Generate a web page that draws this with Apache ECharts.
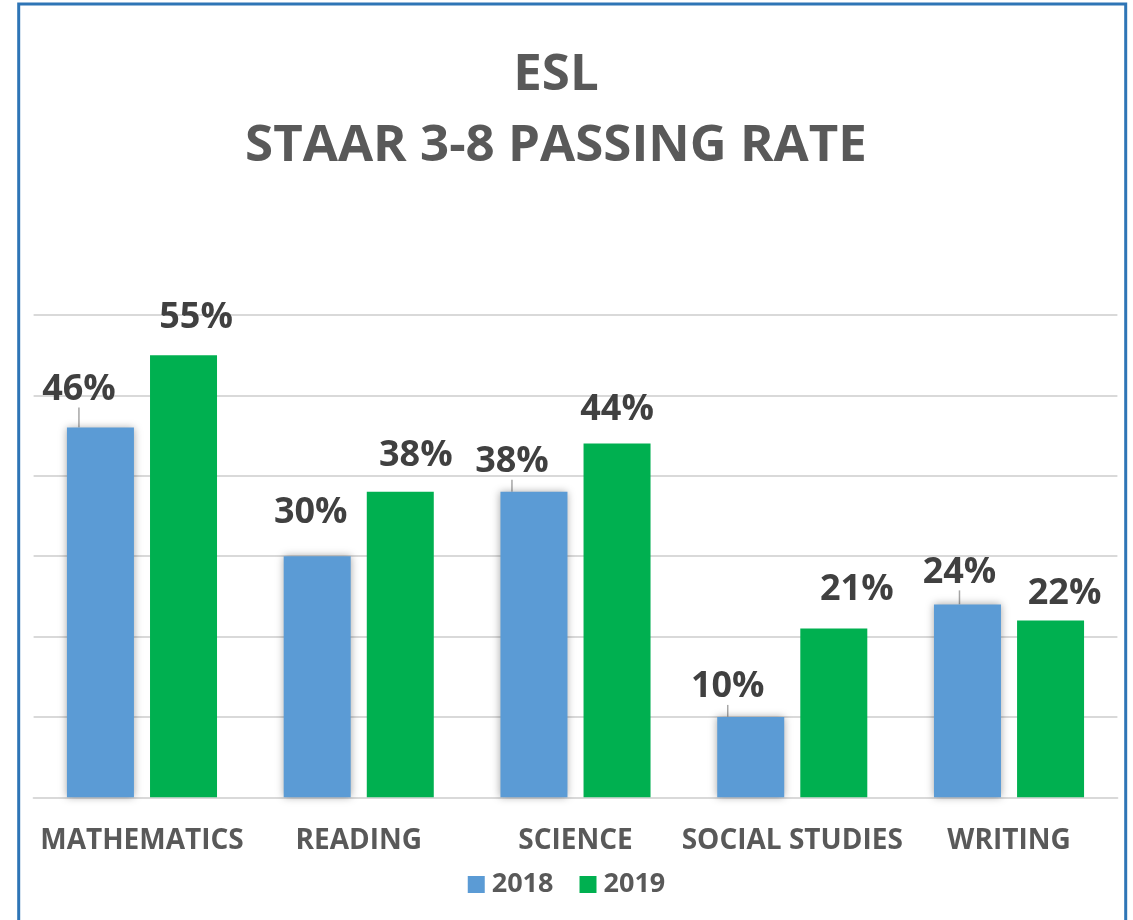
<!DOCTYPE html>
<html>
<head>
<meta charset="utf-8">
<script src="https://cdn.jsdelivr.net/npm/echarts@6/dist/echarts.min.js"></script>
<style>
html,body{margin:0;padding:0;background:#fff;overflow:hidden;}
#c{width:1133px;height:920px;}
</style>
</head>
<body>
<div id="c"></div>
<script>
const categories = ['MATHEMATICS', 'READING', 'SCIENCE', 'SOCIAL STUDIES', 'WRITING'];
const seriesNames = ['2018', '2019'];
const values2018 = [46, 30, 38, 10, 24];
const values2019 = [55, 38, 44, 21, 22];
const yTicks = [0, 10, 20, 30, 40, 50, 60];

// label placement (style only)
const labelDx2018 = [-21.5, -6.5, -22, -23, -8];
const labelGap2018 = [25, 30, 17, 17, 19];
const leader2018 = [true, false, true, true, true];
const labelDx2019 = [12.5, 15.5, 0, 23, 14];
const labelGap2019 = [24, 23, 21, 26, 14];

const FONT = 'Open Sans';
const chart = echarts.init(document.getElementById('c'), null, {renderer: 'canvas'});

function items(vals, leaders) {
  return vals.map((v, i) => ({
    value: v,
    labelLine: {show: leaders ? leaders[i] : false}
  }));
}

const labelCommon = {
  show: true,
  position: 'top',
  distance: 0,
  formatter: p => p.value + '%',
  fontFamily: FONT,
  fontWeight: 'bold',
  fontSize: 36,
  color: '#404040'
};

chart.setOption({
  animation: false,
  backgroundColor: '#ffffff',
  title: {
    text: 'ESL\nSTAAR 3-8 PASSING RATE',
    left: 551,
    textAlign: 'center',
    top: 35,
    textStyle: {
      fontFamily: FONT,
      fontWeight: 'bold',
      fontSize: 51,
      lineHeight: 71,
      color: '#595959'
    }
  },
  legend: {
    data: seriesNames,
    left: 'center',
    top: 866,
    icon: 'rect',
    itemWidth: 17,
    itemHeight: 17,
    itemGap: 26,
    textStyle: {
      fontFamily: FONT,
      fontWeight: 'bold',
      fontSize: 27,
      color: '#595959',
      padding: [0, 0, 0, 2]
    }
  },
  grid: {left: 33.6, right: 15.6, top: 315, bottom: 122.7, containLabel: false},
  xAxis: {
    type: 'category',
    data: categories,
    axisTick: {show: false},
    axisLine: {show: true, lineStyle: {color: '#d9d9d9', width: 2}},
    axisLabel: {
      margin: 30,
      interval: 0,
      fontFamily: FONT,
      fontWeight: 'bold',
      fontSize: 28,
      color: '#595959'
    }
  },
  yAxis: {
    type: 'value',
    min: yTicks[0],
    max: yTicks[yTicks.length - 1],
    interval: 10,
    axisLabel: {show: false},
    axisLine: {show: false},
    axisTick: {show: false},
    splitLine: {lineStyle: {color: '#d9d9d9', width: 2}}
  },
  graphic: [{
    type: 'rect',
    shape: {x: 18.7, y: 4, width: 1107, height: 1000},
    style: {fill: 'none', stroke: '#2E75B6', lineWidth: 3},
    silent: true,
    z: 100
  }],
  series: [
    {
      name: seriesNames[0],
      type: 'bar',
      data: items(values2018, leader2018),
      barWidth: 67,
      barGap: '24%',
      itemStyle: {
        color: '#5B9BD5',
        shadowColor: 'rgba(0,0,0,0.35)',
        shadowBlur: 8
      },
      label: labelCommon,
      labelLine: {show: false, lineStyle: {color: '#a6a6a6', width: 1.5}},
      labelLayout: p => ({dx: labelDx2018[p.dataIndex], dy: -(labelGap2018[p.dataIndex] - 5)})
    },
    {
      name: seriesNames[1],
      type: 'bar',
      data: items(values2019, null),
      barWidth: 67,
      barGap: '24%',
      itemStyle: {color: '#00B050'},
      label: labelCommon,
      labelLine: {show: false},
      labelLayout: p => ({dx: labelDx2019[p.dataIndex], dy: -(labelGap2019[p.dataIndex] - 5)})
    }
  ]
});
</script>
</body>
</html>
